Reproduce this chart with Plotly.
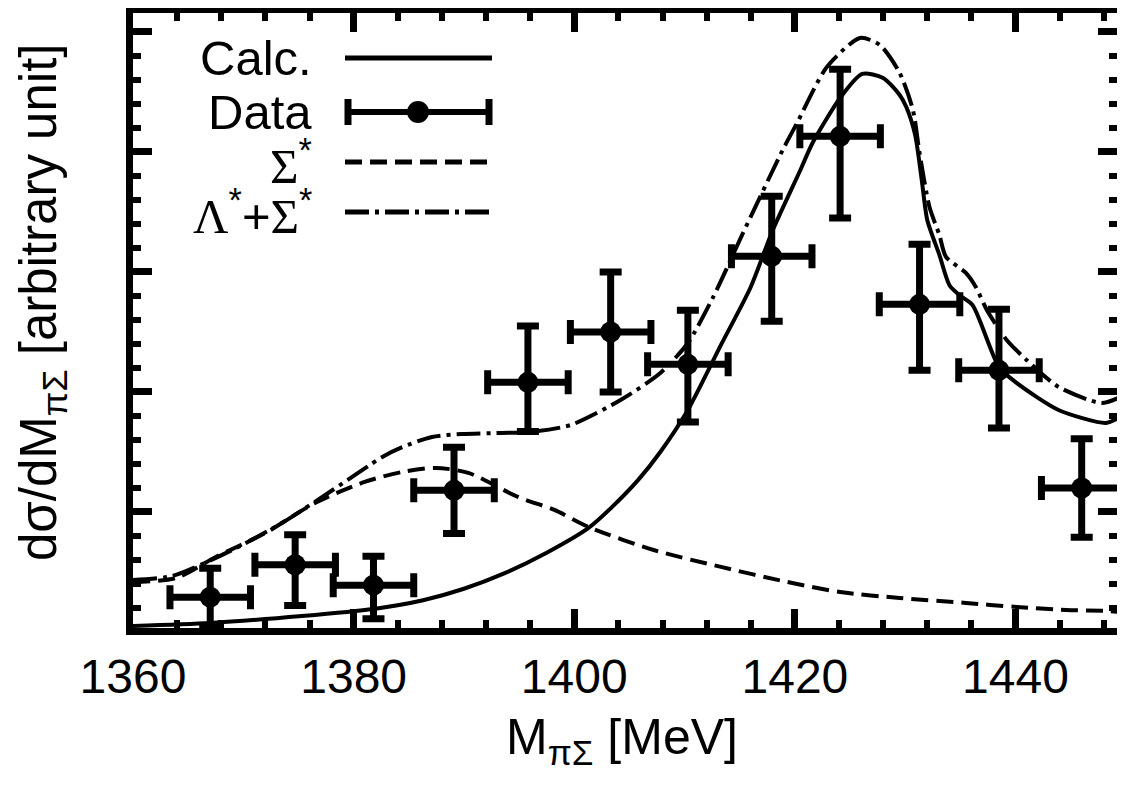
import plotly.graph_objects as go

# ---------------- data ----------------
data_x = [1367.0, 1374.7, 1381.8, 1389.1, 1395.8, 1403.3, 1410.3, 1417.9, 1424.1, 1431.3, 1438.5, 1446.0]
data_y = [0.29, 0.56, 0.39, 1.18, 2.08, 2.50, 2.23, 3.13, 4.13, 2.73, 2.18, 1.20]
err_up = [0.24, 0.25, 0.24, 0.36, 0.47, 0.50, 0.45, 0.50, 0.56, 0.50, 0.51, 0.41]
err_down = [0.24, 0.34, 0.28, 0.36, 0.41, 0.50, 0.48, 0.54, 0.68, 0.55, 0.48, 0.41]
err_x = [3.65, 3.65, 3.65, 3.65, 3.65, 3.65, 3.65, 3.65, 3.65, 3.65, 3.65, 3.65]

calc_x = [1360.0, 1367.0, 1375.3, 1381.8, 1386.2, 1390.0, 1393.7, 1397.5, 1401.3, 1403.3,
          1405.8, 1407.8, 1410.3, 1413.3, 1416.0, 1418.0, 1420.5, 1421.6, 1424.1, 1426.1,
          1428.0, 1429.5, 1430.1, 1430.9, 1431.5, 1432.0, 1433.1, 1434.0, 1434.9, 1436.1,
          1438.5, 1440.1, 1443.9, 1448.2, 1449.5]
calc_y = [0.05, 0.075, 0.133, 0.192, 0.262, 0.36, 0.49, 0.66, 0.867, 1.03,
          1.267, 1.50, 1.85, 2.392, 2.875, 3.35, 3.85, 4.075, 4.45, 4.65,
          4.617, 4.475, 4.375, 4.142, 3.767, 3.433, 3.142, 2.892, 2.808, 2.725,
          2.208, 2.075, 1.85, 1.742, 1.792]

sig_x = [1360.0, 1363.9, 1367.5, 1372.0, 1376.5, 1381.0, 1384.4, 1387.4, 1390.4, 1394.9,
         1398.2, 1401.3, 1407.2, 1413.3, 1419.3, 1424.1, 1429.5, 1435.5, 1440.1, 1444.6,
         1448.2, 1449.5]
sig_y = [0.417, 0.45, 0.625, 0.825, 1.075, 1.25, 1.333, 1.367, 1.325, 1.125,
         1.017, 0.875, 0.683, 0.542, 0.417, 0.333, 0.283, 0.242, 0.208, 0.183,
         0.175, 0.167]

lamsig_x = [1360.0, 1363.6, 1369.0, 1373.5, 1378.1, 1382.6, 1384.4, 1387.1, 1389.8, 1393.4,
            1396.1, 1399.7, 1404.2, 1407.8, 1410.3, 1412.6, 1415.3, 1418.9, 1420.2, 1422.9,
            1425.9, 1427.7, 1429.5, 1430.7, 1431.3, 1432.2, 1433.1, 1433.7, 1435.5, 1436.4,
            1437.4, 1439.2, 1441.0, 1443.9, 1447.8, 1449.5]
lamsig_y = [0.433, 0.467, 0.683, 0.908, 1.183, 1.458, 1.54, 1.625, 1.65, 1.658,
            1.667, 1.725, 1.933, 2.158, 2.408, 2.792, 3.325, 4.017, 4.242, 4.708,
            4.95, 4.892, 4.658, 4.35, 3.992, 3.542, 3.308, 3.125, 2.992, 2.875,
            2.683, 2.433, 2.267, 2.042, 1.908, 1.958]

x_ticks = [1360, 1380, 1400, 1420, 1440]
x_tick_text = ["1360", "1380", "1400", "1420", "1440"]

SERIF = "<span style='font-family:Liberation Serif'>%s</span>"
legend_labels = ["Calc.", "Data",
                 SERIF % "Σ" + "<sup>*</sup>",
                 SERIF % "Λ" + "<sup>*</sup>+" + SERIF % "Σ" + "<sup>*</sup>"]
x_title = "M<sub>πΣ</sub> [MeV]"
y_title = "dσ/dM<sub>πΣ</sub> [arbitrary unit]"

# ---------------- geometry (page body has an 8px margin) ----------------
OFF = 8
W, H = 1125 - OFF, 790 - OFF
ML, MT = 133 - OFF, 13 - OFF
PR, PB = 1117 - OFF, 628 - OFF          # right / bottom inner edges in figure px
MR, MB = W - PR, H - PB
PW, PH = PR - ML, PB - MT


def px_x(p):            # screen px -> paper
    return (p - OFF - ML) / PW


def px_y(p):
    return (PB - (p - OFF)) / PH


fig = go.Figure()

fig.add_trace(go.Scatter(x=sig_x, y=sig_y, mode="lines",
                         line=dict(color="black", width=4, dash="17px,8px", shape="spline", smoothing=0.8),
                         showlegend=False, hoverinfo="skip"))
fig.add_trace(go.Scatter(x=lamsig_x, y=lamsig_y, mode="lines",
                         line=dict(color="black", width=4, dash="24px,6px,4px,6px", shape="spline", smoothing=0.7),
                         showlegend=False, hoverinfo="skip"))
fig.add_trace(go.Scatter(x=calc_x, y=calc_y, mode="lines",
                         line=dict(color="black", width=4, shape="spline", smoothing=0.7),
                         showlegend=False, hoverinfo="skip"))
fig.add_trace(go.Scatter(x=data_x, y=data_y, mode="markers",
                         marker=dict(color="black", size=21),
                         error_y=dict(type="data", symmetric=False, array=err_up, arrayminus=err_down,
                                      color="black", thickness=7, width=11),
                         error_x=dict(type="data", array=err_x, color="black", thickness=7, width=12),
                         showlegend=False, hoverinfo="skip"))

# ---------------- legend (drawn manually: text left of sample) ----------------
rows = [58, 112, 162, 212]
lx0, lx1, ldot = 345, 492, 418
for lab, r in zip(legend_labels, rows):
    fig.add_annotation(xref="paper", yref="paper", x=px_x(314), y=px_y(r), text=lab,
                       showarrow=False, xanchor="right", yanchor="middle",
                       font=dict(family="Liberation Sans", size=49, color="black"))

fig.add_shape(type="line", xref="paper", yref="paper", x0=px_x(lx0), x1=px_x(lx1),
              y0=px_y(rows[0]), y1=px_y(rows[0]), line=dict(color="black", width=5))
fig.add_shape(type="line", xref="paper", yref="paper", x0=px_x(lx0), x1=px_x(lx1),
              y0=px_y(rows[1]), y1=px_y(rows[1]), line=dict(color="black", width=6))
for cx in (lx0 + 3, lx1 - 3):
    fig.add_shape(type="line", xref="paper", yref="paper", x0=px_x(cx), x1=px_x(cx),
                  y0=px_y(rows[1] - 13), y1=px_y(rows[1] + 13), line=dict(color="black", width=7))
fig.add_shape(type="circle", xref="paper", yref="paper", x0=px_x(ldot - 11), x1=px_x(ldot + 11),
              y0=px_y(rows[1] + 11), y1=px_y(rows[1] - 11), fillcolor="black", line=dict(color="black", width=0))
fig.add_shape(type="line", xref="paper", yref="paper", x0=px_x(lx0), x1=px_x(lx1),
              y0=px_y(rows[2]), y1=px_y(rows[2]), line=dict(color="black", width=5, dash="17px,8px"))
fig.add_shape(type="line", xref="paper", yref="paper", x0=px_x(lx0), x1=px_x(lx1),
              y0=px_y(rows[3]), y1=px_y(rows[3]), line=dict(color="black", width=5, dash="24px,6px,4px,6px"))

# ---------------- axis titles ----------------
fig.add_annotation(xref="paper", yref="paper", x=px_x(622), y=px_y(740), text=x_title,
                   showarrow=False, xanchor="center", yanchor="middle",
                   font=dict(family="Liberation Sans", size=50, color="black"))
fig.add_annotation(xref="paper", yref="paper", x=px_x(42), y=px_y(302), text=y_title,
                   showarrow=False, xanchor="center", yanchor="middle", textangle=-90,
                   font=dict(family="Liberation Sans", size=51, color="black"))

axis_common = dict(showgrid=False, zeroline=False, showline=True, linecolor="black", linewidth=7,
                   mirror="allticks", ticks="inside", ticklen=19, tickwidth=7, tickcolor="black")

fig.update_layout(
    width=W, height=H,
    margin=dict(l=ML, r=MR, t=MT, b=MB, autoexpand=False),
    paper_bgcolor="white", plot_bgcolor="white",
    font=dict(family="Liberation Sans", color="black"),
    xaxis=dict(range=[1360, 1449.2], tickvals=x_ticks, ticktext=x_tick_text,
               tickfont=dict(size=48, family="Liberation Sans"),
               minor=dict(dtick=4, tick0=1360, ticks="inside", ticklen=8, tickwidth=6, tickcolor="black"),
               **axis_common),
    yaxis=dict(range=[0.033, 5.158], tick0=0, dtick=1, showticklabels=False,
               minor=dict(dtick=0.2, tick0=0, ticks="inside", ticklen=8, tickwidth=6, tickcolor="black"),
               **axis_common),
)

fig.write_html("out.html")
